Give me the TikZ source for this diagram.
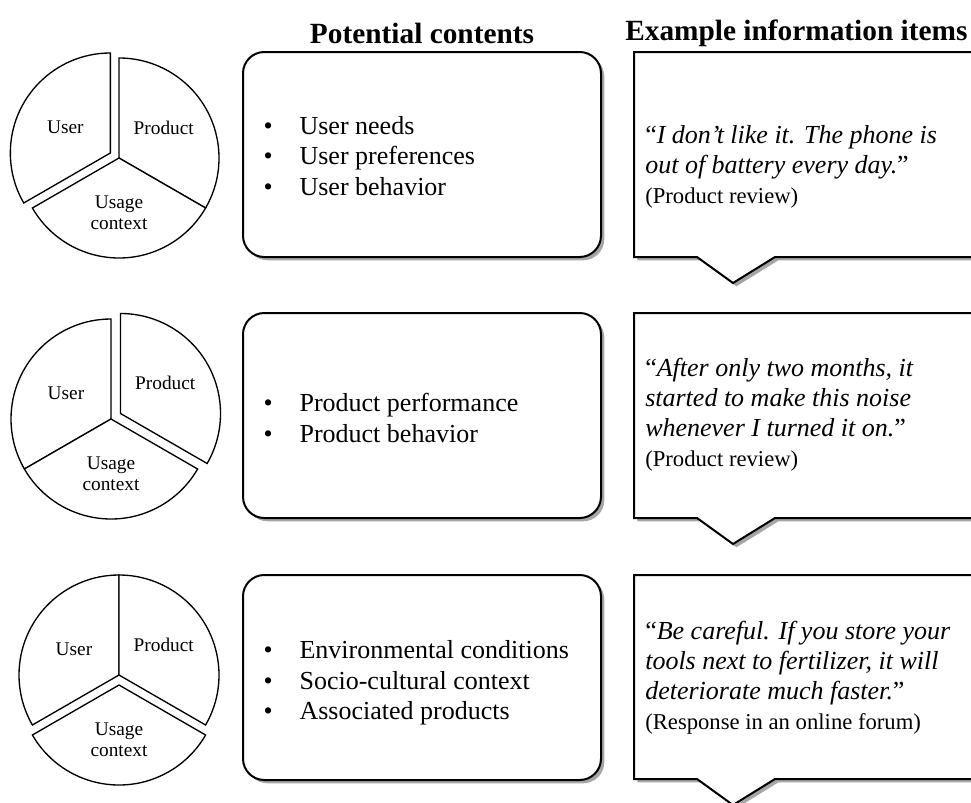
\documentclass[tikz,border=0pt]{standalone}
\usepackage{fontspec}
\setmainfont{Liberation Serif}
\usetikzlibrary{positioning,calc,shadows}

\tikzset{
  slice/.style={draw=black,line width=1pt,fill=white},
  slicelabel/.style={font=\fontsize{14.5}{16}\selectfont,align=center,inner sep=0pt},
  contentbox/.style={draw=black,line width=1.5pt,rounded corners=16pt,fill=white,
    drop shadow={shadow xshift=2.5pt,shadow yshift=-2.5pt,opacity=.35,fill=black}},
  calloutbox/.style={draw=black,line width=1.5pt,fill=white,line join=miter,
    drop shadow={shadow xshift=2.5pt,shadow yshift=-2.5pt,opacity=.35,fill=black}},
  heading/.style={font=\fontsize{22}{26}\selectfont\bfseries,inner sep=0pt},
  listtext/.style={font=\fontsize{19.5}{23}\selectfont,align=left,inner sep=0pt},
  quotetext/.style={font=\fontsize{19.5}{22.5}\selectfont,align=left,inner sep=0pt}
}
\newcommand{\itm}[1]{\makebox[27pt][l]{\textbullet}#1}
\newcommand{\srcline}[1]{{\fontsize{17}{20}\selectfont #1}}

\begin{document}
\begin{tikzpicture}[x=0.75pt,y=0.75pt]
  \useasboundingbox (0,0) rectangle (971,-803);
  \clip (0,0) rectangle (971,-803);

  % column headings
  \node[heading] (hdcont) at (422,-33) {Potential contents};
  \node[heading,anchor=west] (hdexam) at (625,-33) {Example information items};

  % row 1 -- user slice pulled out
  \coordinate (pie1) at (119,-158);
  \draw[slice] ($(pie1)+(150:10)$) coordinate (u1) -- ++(90:100) arc[start angle=90,end angle=210,radius=100] -- cycle;
  \draw[slice] (pie1) coordinate (p1) -- ++(-30:100) arc[start angle=-30,end angle=90,radius=100] -- cycle;
  \draw[slice] (pie1) coordinate (c1) -- ++(210:100) arc[start angle=210,end angle=330,radius=100] -- cycle;
  \node[slicelabel] (user1) at ($(u1)+(150:52)$) {User};
  \node[slicelabel] (prod1) at ($(p1)+(34:54)$) {Product};
  \node[slicelabel] (ctx1) at ($(c1)+(270:55)$) {Usage\\context};

  \node[contentbox,minimum width=268.5pt,minimum height=153.75pt] (cont1) at (422,-154.5) {};
  \node[listtext,right=16pt of cont1.west,yshift=-1pt] (list1)
    {\itm{User needs}\\ \itm{User preferences}\\ \itm{User behavior}};

  \draw[calloutbox] (634,-52) -- (990,-52) -- (990,-257) -- (775,-257) -- (733,-283) -- (697,-257) -- (634,-257) -- cycle;
  \node[quotetext,anchor=west] (quote1) at (645,-167)
    {“\textit{I don’t like it. The phone is}\\ \textit{out of battery every day.}”\\ \srcline{(Product review)}};

  % row 2 -- product slice pulled out
  \coordinate (pie2) at (111,-419);
  \draw[slice] (pie2) coordinate (u2) -- ++(90:100) arc[start angle=90,end angle=210,radius=100] -- cycle;
  \draw[slice] ($(pie2)+(30:11)$) coordinate (p2) -- ++(-30:100) arc[start angle=-30,end angle=90,radius=100] -- cycle;
  \draw[slice] (pie2) coordinate (c2) -- ++(210:100) arc[start angle=210,end angle=330,radius=100] -- cycle;
  \node[slicelabel] (user2) at ($(u2)+(150:52)$) {User};
  \node[slicelabel] (prod2) at ($(p2)+(34:54)$) {Product};
  \node[slicelabel] (ctx2) at ($(c2)+(270:55)$) {Usage\\context};

  \node[contentbox,minimum width=268.5pt,minimum height=153.75pt] (cont2) at (422,-415.5) {};
  \node[listtext,right=16pt of cont2.west,yshift=-2pt] (list2)
    {\itm{Product performance}\\ \itm{Product behavior}};

  \draw[calloutbox] (634,-313) -- (990,-313) -- (990,-518) -- (775,-518) -- (733,-544) -- (697,-518) -- (634,-518) -- cycle;
  \node[quotetext,anchor=west] (quote2) at (645,-415)
    {“\textit{After only two months, it}\\ \textit{started to make this noise}\\ \textit{whenever I turned it on.}”\\ \srcline{(Product review)}};

  % row 3 -- usage context slice pulled out
  \coordinate (pie3) at (119,-675);
  \draw[slice] (pie3) coordinate (u3) -- ++(90:100) arc[start angle=90,end angle=210,radius=100] -- cycle;
  \draw[slice] (pie3) coordinate (p3) -- ++(-30:100) arc[start angle=-30,end angle=90,radius=100] -- cycle;
  \draw[slice] ($(pie3)+(270:10)$) coordinate (c3) -- ++(210:100) arc[start angle=210,end angle=330,radius=100] -- cycle;
  \node[slicelabel] (user3) at ($(u3)+(150:52)$) {User};
  \node[slicelabel] (prod3) at ($(p3)+(34:54)$) {Product};
  \node[slicelabel] (ctx3) at ($(c3)+(270:55)$) {Usage\\context};

  \node[contentbox,minimum width=268.5pt,minimum height=153.75pt] (cont3) at (422,-677.5) {};
  \node[listtext,right=16pt of cont3.west,yshift=-4pt] (list3)
    {\itm{Environmental conditions}\\ \itm{Socio-cultural context}\\ \itm{Associated products}};

  \draw[calloutbox] (634,-575) -- (990,-575) -- (990,-779) -- (775,-779) -- (733,-805) -- (697,-779) -- (634,-779) -- cycle;
  \node[quotetext,anchor=west] (quote3) at (645,-678)
    {“\textit{Be careful. If you store your}\\ \textit{tools next to fertilizer, it will}\\ \textit{deteriorate much faster.}”\\ \srcline{(Response in an online forum)}};
\end{tikzpicture}
\end{document}
